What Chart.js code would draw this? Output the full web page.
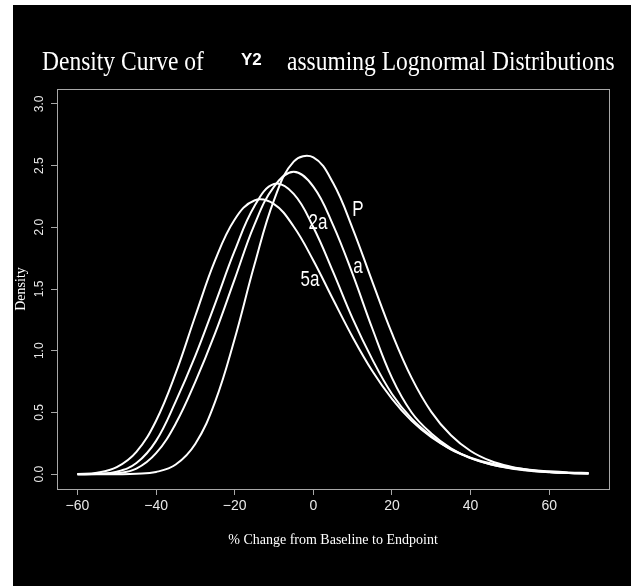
<!DOCTYPE html>
<html>
<head>
<meta charset="utf-8">
<script src="https://cdn.jsdelivr.net/npm/chart.js@4.4.1/dist/chart.umd.min.js"></script>
<style>
  html, body { margin: 0; padding: 0; background: #fff; }
  #wrap { position: absolute; left: 13px; top: 5px; width: 618px; height: 581px; background: #000; }
</style>
</head>
<body>
<div id="wrap"><canvas id="chart" width="618" height="581"></canvas></div>
<script>
// % change from baseline to endpoint (x grid of the curves)
const xValues = [-60, -55, -50, -45, -40, -35, -30, -25, -20, -15, -10, -5, 0, 5, 10, 15, 20, 25, 30, 35, 40, 45, 50, 55, 60, 65, 70];

// density, one array per curve
const densityP = [0.000, 0.000, 0.000, 0.003, 0.018, 0.078, 0.247, 0.585, 1.097, 1.694, 2.220, 2.532, 2.566, 2.360, 1.990, 1.560, 1.140, 0.780, 0.505, 0.315, 0.188, 0.109, 0.062, 0.034, 0.018, 0.010, 0.005];
const densityA = [0.000, 0.001, 0.008, 0.045, 0.170, 0.410, 0.750, 1.140, 1.580, 2.020, 2.330, 2.450, 2.330, 2.020, 1.620, 1.180, 0.780, 0.500, 0.330, 0.210, 0.130, 0.080, 0.048, 0.028, 0.016, 0.009, 0.005];
const density2A = [0.000, 0.003, 0.020, 0.090, 0.270, 0.590, 0.960, 1.380, 1.810, 2.170, 2.350, 2.270, 2.000, 1.640, 1.260, 0.930, 0.650, 0.450, 0.310, 0.200, 0.130, 0.080, 0.050, 0.030, 0.017, 0.010, 0.006];
const density5A = [0.002, 0.012, 0.057, 0.181, 0.433, 0.818, 1.283, 1.731, 2.063, 2.217, 2.187, 2.006, 1.731, 1.417, 1.110, 0.836, 0.610, 0.432, 0.299, 0.202, 0.134, 0.088, 0.057, 0.036, 0.023, 0.014, 0.009];

const seriesNames = ["P", "a", "2a", "5a"];
const xTicks = [-60, -40, -20, 0, 20, 40, 60];
const yTicks = [0, 0.5, 1, 1.5, 2, 2.5, 3];

const titleLeft = "Density Curve of";
const titleVar = "Y2";
const titleRight = "assuming Lognormal Distributions";

const GRAY = "#a8a8a8";

function toPoints(ys) {
  return xValues.map((x, i) => ({ x: x, y: ys[i] }));
}

// text squeezed like the original (it was drawn taller than wide)
function tallText(ctx, s, x, y, sy) {
  ctx.save();
  ctx.translate(x, y);
  ctx.scale(1, sy);
  ctx.fillText(s, 0, 0);
  ctx.restore();
}

const decorations = {
  id: "decorations",
  afterDraw(chart) {
    const ctx = chart.ctx;
    const a = chart.chartArea;
    ctx.save();
    // box round the plot
    ctx.strokeStyle = GRAY;
    ctx.lineWidth = 1;
    ctx.strokeRect(Math.round(a.left) + 0.5, Math.round(a.top) + 0.5, Math.round(a.right - a.left), Math.round(a.bottom - a.top));

    // title
    ctx.fillStyle = "#fff";
    ctx.textBaseline = "alphabetic";
    ctx.textAlign = "left";
    ctx.font = "23.5px 'Liberation Serif'";
    tallText(ctx, titleLeft, 29, 65, 1.15);
    tallText(ctx, titleRight, 274, 65, 1.15);
    ctx.font = "bold 17px 'Liberation Sans'";
    ctx.fillText(titleVar, 228, 60);

    // curve labels
    ctx.textAlign = "center";
    ctx.font = "17px 'Liberation Sans'";
    const labelPos = [[345, 211], [345, 268], [305, 224], [297, 281]];
    seriesNames.forEach((n, i) => tallText(ctx, n, labelPos[i][0], labelPos[i][1], 1.3));
    ctx.restore();
  }
};

function curve(name, ys) {
  return {
    label: name,
    data: toPoints(ys),
    borderColor: "#fff",
    borderWidth: 2,
    pointRadius: 0,
    tension: 0.4,
    fill: false
  };
}

new Chart(document.getElementById("chart"), {
  type: "line",
  data: {
    datasets: [
      curve(seriesNames[0], densityP),
      curve(seriesNames[1], densityA),
      curve(seriesNames[2], density2A),
      curve(seriesNames[3], density5A)
    ]
  },
  options: {
    responsive: false,
    animation: false,
    devicePixelRatio: 1,
    layout: { padding: { left: 0, right: 22, top: 84, bottom: 0 } },
    plugins: {
      legend: { display: false },
      tooltip: { enabled: false },
      title: { display: false }
    },
    scales: {
      x: {
        type: "linear",
        min: -65.2,
        max: 75.2,
        afterBuildTicks: (s) => { s.ticks = xTicks.map((v) => ({ value: v })); },
        afterFit: (s) => { s.height = 97; },
        border: { display: false },
        grid: { drawOnChartArea: false, drawTicks: true, tickLength: 6, color: GRAY },
        ticks: {
          color: "#e8e8e8",
          font: { family: "Liberation Sans", size: 14 },
          padding: 3,
          maxRotation: 0,
          autoSkip: false,
          callback: (v) => (v < 0 ? "\u2212" + -v : String(v))
        },
        title: {
          display: true,
          text: "% Change from Baseline to Endpoint",
          color: "#fff",
          font: { family: "Liberation Serif", size: 14 },
          padding: { top: 0, bottom: 37 }
        }
      },
      y: {
        type: "linear",
        min: -0.12,
        max: 3.12,
        afterBuildTicks: (s) => { s.ticks = yTicks.map((v) => ({ value: v })); },
        afterFit: (s) => { s.width = 44; },
        border: { display: false },
        grid: { drawOnChartArea: false, drawTicks: true, tickLength: 6, color: GRAY },
        ticks: {
          color: "#e8e8e8",
          font: { family: "Liberation Sans", size: 12 },
          padding: 3,
          minRotation: 90,
          maxRotation: 90,
          crossAlign: "center",
          callback: (v) => v.toFixed(1)
        },
        title: {
          display: true,
          text: "Density",
          color: "#fff",
          font: { family: "Liberation Serif", size: 14 },
          padding: { top: 0, bottom: 0 }
        }
      }
    }
  },
  plugins: [decorations]
});
</script>
</body>
</html>
